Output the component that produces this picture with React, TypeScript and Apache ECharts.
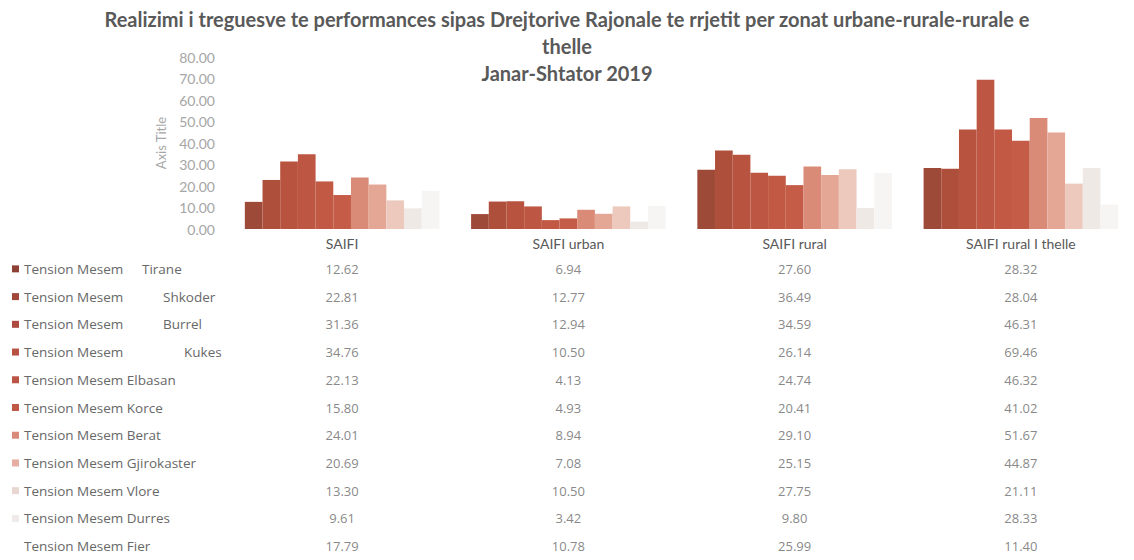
import React, { useEffect, useRef } from "react";
import * as echarts from "echarts";

const categories = ["SAIFI", "SAIFI urban", "SAIFI rural", "SAIFI rural I thelle"];
const seriesPrefix = "Tension Mesem";
const regions = ["Tirane", "Shkoder", "Burrel", "Kukes", "Elbasan", "Korce", "Berat", "Gjirokaster", "Vlore", "Durres", "Fier"];

const tirane = [12.62, 6.94, 27.6, 28.32];
const shkoder = [22.81, 12.77, 36.49, 28.04];
const burrel = [31.36, 12.94, 34.59, 46.31];
const kukes = [34.76, 10.5, 26.14, 69.46];
const elbasan = [22.13, 4.13, 24.74, 46.32];
const korce = [15.8, 4.93, 20.41, 41.02];
const berat = [24.01, 8.94, 29.1, 51.67];
const gjirokaster = [20.69, 7.08, 25.15, 44.87];
const vlore = [13.3, 10.5, 27.75, 21.11];
const durres = [9.61, 3.42, 9.8, 28.33];
const fier = [17.79, 10.78, 25.99, 11.4];

const regionValues = [tirane, shkoder, burrel, kukes, elbasan, korce, berat, gjirokaster, vlore, durres, fier];

const yTicks = { min: 0, max: 80, interval: 10 };

const colors = ["#9E4A39", "#AE4F3C", "#B8533F", "#BD5642", "#C15944", "#C45C47", "#DA8B77", "#E4A796", "#EDC8BD", "#EFE9E5", "#F7F5F3"];
const keyColors = ["#8E4035", "#A0473A", "#AD4C3E", "#B75143", "#BB5546", "#C05848", "#D98A78", "#E6AEA2", "#E8D6D1", "#F0EBEA", "#FFFFFF"];
// width of the "Tension Mesem" part for the rows whose names hold extra spaces
const cityWidths = [118, 139, 139, 160];

const FONT = "Lato, 'Open Sans', sans-serif";
const TFONT = "'Open Sans', sans-serif";

export default function App() {
  const ref = useRef<HTMLDivElement>(null);
  useEffect(() => {
    document.body.style.overflow = "hidden";
    const chart = echarts.init(ref.current!, undefined, { renderer: "svg" });

    const rich: any = {
      t: { color: "#686868", fontSize: 13.5, fontFamily: TFONT },
      sp: { width: 5, fontSize: 13 },
    };
    keyColors.forEach((c, i) => {
      rich["k" + i] = { width: 7, height: 7, backgroundColor: c, fontSize: 7 };
    });
    cityWidths.forEach((w, i) => {
      rich["w" + i] = { width: w, color: "#686868", fontSize: 13.5, fontFamily: TFONT };
    });

    const barSeries = regions.map((r, i) => ({
      name: seriesPrefix + " " + r,
      type: "bar",
      xAxisIndex: 0,
      yAxisIndex: 0,
      data: regionValues[i],
      itemStyle: { color: colors[i] },
      barGap: "0%",
      barCategoryGap: "14%",
    }));

    const tableData: any[] = [];
    regions.forEach((r, ri) => {
      categories.forEach((c, ci) => {
        tableData.push({ value: [ci, ri, regionValues[ri][ci]] });
      });
    });

    chart.setOption({
      animation: false,
      backgroundColor: "#ffffff",
      textStyle: { fontFamily: FONT },
      title: {
        text: "Realizimi i treguesve te performances sipas Drejtorive Rajonale te rrjetit per zonat urbane-rurale-rurale e\nthelle\nJanar-Shtator 2019",
        left: "center",
        top: 0,
        textStyle: { fontSize: 20, fontWeight: "bold", color: "#595959", lineHeight: 27, fontFamily: FONT },
      },
      grid: [
        { left: 229, right: -15, top: 57, bottom: 331 },
        { left: 229, right: -15, top: 255, bottom: -5 },
      ],
      xAxis: [
        {
          type: "category",
          gridIndex: 0,
          data: categories,
          axisLine: { show: false },
          axisTick: { show: false },
          axisLabel: { color: "#595959", fontSize: 14, margin: 7, fontFamily: FONT },
        },
        { type: "category", gridIndex: 1, data: categories, show: false },
      ],
      yAxis: [
        {
          type: "value",
          gridIndex: 0,
          min: yTicks.min,
          max: yTicks.max,
          interval: yTicks.interval,
          name: "Axis Title",
          nameLocation: "middle",
          nameGap: 62,
          nameTextStyle: { color: "#A6A6A6", fontSize: 13, fontFamily: FONT },
          splitLine: { show: false },
          axisLine: { show: false },
          axisTick: { show: false },
          axisLabel: {
            color: "#A6A6A6",
            fontSize: 14,
            margin: 14,
            fontFamily: FONT,
            formatter: (v: number) => v.toFixed(2),
          },
        },
        {
          type: "category",
          gridIndex: 1,
          inverse: true,
          data: regions,
          axisLine: { show: false },
          axisTick: { show: false },
          splitLine: { show: false },
          axisLabel: {
            align: "left",
            margin: 217,
            rich,
            formatter: (v: string, i: number) =>
              i < cityWidths.length
                ? `{k${i}| }{sp| }{w${i}|${seriesPrefix}}{t|${v}}`
                : `{k${i}| }{sp| }{t|${seriesPrefix} ${v}}`,
          },
        },
      ],
      series: [
        ...barSeries,
        {
          type: "scatter",
          xAxisIndex: 1,
          yAxisIndex: 1,
          symbolSize: 1,
          itemStyle: { color: "rgba(0,0,0,0)" },
          data: tableData,
          label: {
            show: true,
            position: "inside",
            color: "#686868",
            fontSize: 13,
            fontFamily: TFONT,
            formatter: (p: any) => Number(p.value[2]).toFixed(2),
          },
        },
      ],
    });
    return () => chart.dispose();
  }, []);
  return <div ref={ref} style={{ position: "absolute", left: 0, top: 0, width: 1134, height: 560 }} />;
}
